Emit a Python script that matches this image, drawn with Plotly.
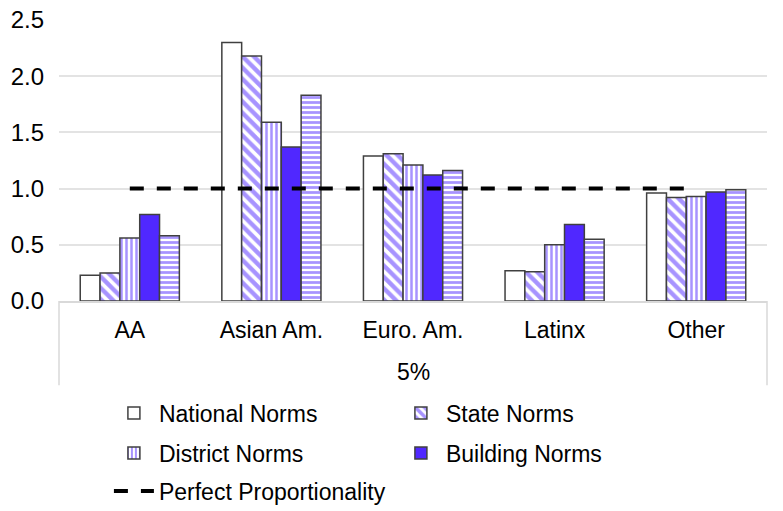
import plotly.graph_objects as go

categories = ["AA", "Asian Am.", "Euro. Am.", "Latinx", "Other"]
national = [0.23, 2.30, 1.29, 0.27, 0.96]
state = [0.25, 2.18, 1.31, 0.26, 0.92]
district = [0.56, 1.59, 1.21, 0.50, 0.93]
building = [0.77, 1.37, 1.12, 0.68, 0.97]
horizontal = [0.58, 1.83, 1.16, 0.55, 0.99]
proportional = [1.0, 1.0, 1.0, 1.0, 1.0]
y_ticks = [0.0, 0.5, 1.0, 1.5, 2.0, 2.5]

BLUE = "#5028FF"
EDGE = "#404040"
FONT = "Liberation Sans, Arial, sans-serif"

fig = go.Figure()

def bar(name, vals, color, shape, size, solidity, legend, show=True):
    marker = dict(color=color, line=dict(color=EDGE, width=1.5))
    if shape:
        marker["pattern"] = dict(shape=shape, fgcolor=BLUE, bgcolor="white",
                                 size=size, solidity=solidity, fillmode="overlay")
    fig.add_trace(go.Bar(x=categories, y=vals, name=name, marker=marker,
                         legend=legend, showlegend=show))

bar("National Norms", national, "white", "", 0, 0, "legend")
bar("State Norms", state, "white", "\\", 8, 0.55, "legend")
bar("District Norms", district, "white", "|", 5, 0.5, "legend2")
bar("Building Norms", building, BLUE, "", 0, 0, "legend2")
bar("", horizontal, "white", "-", 5, 0.55, "legend", show=False)

fig.add_trace(go.Scatter(x=categories, y=proportional, mode="lines",
                         name="Perfect Proportionality",
                         line=dict(color="black", width=4, dash="14px,13px"),
                         legend="legend3"))

# axis box lines below category axis
for xv in (0, 1):
    fig.add_shape(type="line", xref="paper", yref="paper", x0=xv, x1=xv,
                  y0=0, y1=-0.30, line=dict(color="#d9d9d9", width=1.5))

fig.add_annotation(text="5%", xref="paper", yref="paper", x=0.5, y=-0.253,
                   showarrow=False, font=dict(size=23, color="black", family=FONT),
                   yanchor="middle")

leg_common = dict(orientation="h", xanchor="left", yanchor="middle",
                  font=dict(size=23, color="black", family=FONT),
                  bgcolor="rgba(0,0,0,0)", entrywidth=232, entrywidthmode="pixels",
                  itemwidth=40)

fig.update_layout(
    width=783, height=511,
    margin=dict(l=59, r=16, t=20, b=210, autoexpand=False),
    paper_bgcolor="white", plot_bgcolor="white",
    barmode="group", bargap=0.3, bargroupgap=0,
    font=dict(family=FONT, size=23, color="black"),
    legend=dict(x=0.0705, y=-0.3986, **leg_common),
    legend2=dict(x=0.0705, y=-0.541, **leg_common),
    legend3=dict(x=0.0705, y=-0.676, **leg_common),
    xaxis=dict(showgrid=False, showline=True, linecolor="#d9d9d9", linewidth=1.5,
               ticks="", ticklabelstandoff=8, automargin=False,
               tickfont=dict(size=23, color="black", family=FONT)),
    yaxis=dict(range=[0, 2.5], tickvals=y_ticks, tickformat=".1f",
               showgrid=True, gridcolor="#e3e3e3", gridwidth=1.5,
               zeroline=False, showline=False, ticklabelstandoff=14,
               ticklabeloverflow="allow", automargin=False,
               tickfont=dict(size=24, color="black", family=FONT)),
)

fig.write_html("out.html",
               config={"displayModeBar": False},
               post_script="document.body.style.margin='0';document.body.style.overflow='hidden';")
